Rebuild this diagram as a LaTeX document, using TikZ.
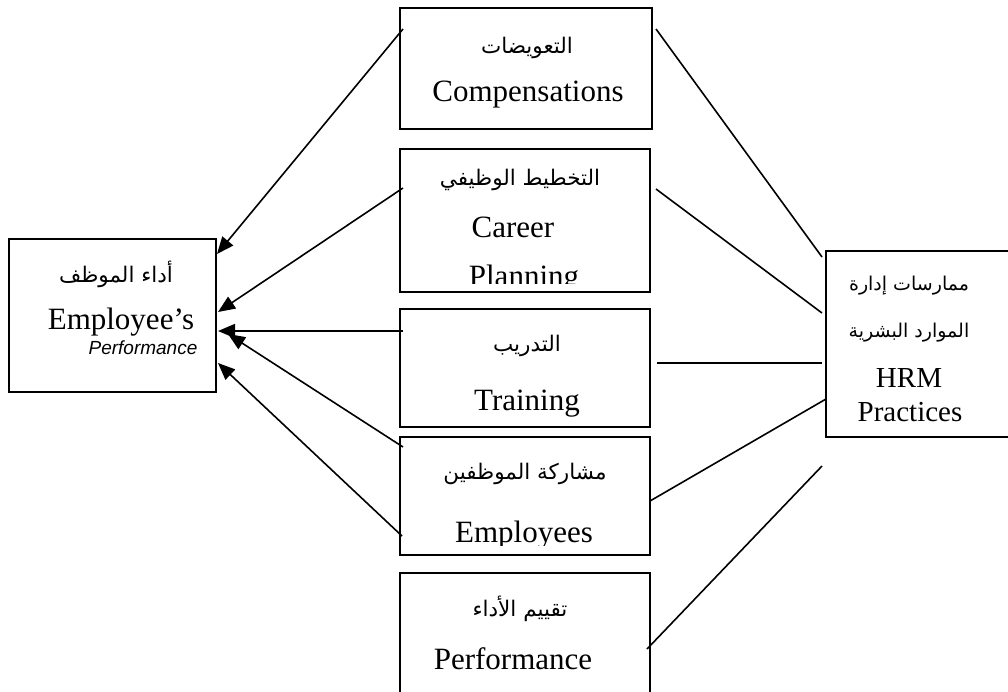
\documentclass[tikz,border=0pt]{standalone}
\usepackage{fontspec}
\setmainfont{Liberation Serif}
\newfontfamily\arabicfont[Script=Arabic]{DejaVu Sans}
\newfontfamily\labelsans{Liberation Sans}
\TeXXeTstate=1
\usetikzlibrary{arrows.meta}
\newcommand\artext[1]{{\arabicfont\beginR #1\endR}}

\begin{document}
\begin{tikzpicture}[x=1pt,y=-1pt,
  frame/.style={draw=black, line width=1.8pt, rectangle, inner sep=0pt},
  lat/.style={font=\fontsize{31}{36}\selectfont, inner sep=0pt, anchor=base},
  arb/.style={font=\arabicfont\fontsize{21.5}{26}\selectfont, inner sep=0pt},
  link/.style={line width=1.6pt},
  arrow/.style={link, -{Triangle[length=17pt,width=14pt]}}]
\useasboundingbox (0,0) rectangle (1008,691);
\clip (0,0) rectangle (1008,691);

% boxes
\node[frame, minimum width=207pt, minimum height=153pt] (perf) at (112.5,315.5) {};
\node[frame, minimum width=252pt, minimum height=121pt] (comp) at (526,68.5) {};
\node[frame, minimum width=250pt, minimum height=143pt] (career) at (525,220.5) {};
\node[frame, minimum width=250pt, minimum height=118pt] (train) at (525,368) {};
\node[frame, minimum width=250pt, minimum height=118pt] (part) at (525,496) {};
\node[frame, minimum width=250pt, minimum height=127pt] (appr) at (525,636.5) {};
\node[frame, minimum width=194pt, minimum height=186pt] (hrm) at (923,344) {};

% employee performance
\node[arb] (perfAr) at (116,274) {\artext{أداء الموظف}};
\node[lat] (perfA) at (121,329) {Employee’s};
\node[inner sep=0pt, anchor=base, font=\labelsans\itshape\fontsize{19}{22}\selectfont] (perfB) at (143,354) {Performance};

% compensations
\node[arb] (compAr) at (527,48) {\artext{التعويضات}};
\node[lat] (compEn) at (528,101) {Compensations};

% career planning
\node[arb] (careerAr) at (520,180) {\artext{التخطيط الوظيفي}};
\node[lat] (careerA) at (513,237) {Career};
\begin{scope}
  \clip (401,150) rectangle (649,283);
  \node[lat] (careerB) at (524,286) {Planning};
\end{scope}

% training
\node[arb] (trainAr) at (527,346) {\artext{التدريب}};
\node[lat] (trainEn) at (527,410) {Training};

% employee participation
\node[arb] (partAr) at (525,474) {\artext{مشاركة الموظفين}};
\begin{scope}
  \clip (401,438) rectangle (649,545);
  \node[lat] (partEn) at (524,542.5) {Employees};
\end{scope}

% performance appraisal
\node[arb] (apprAr) at (520,609) {\artext{تقييم الأداء}};
\node[lat] (apprEn) at (513,669) {Performance};

% HRM practices
\node[arb, font=\arabicfont\fontsize{19}{24}\selectfont] (hrmAr1) at (909,286) {\artext{ممارسات إدارة}};
\node[arb, font=\arabicfont\fontsize{19}{24}\selectfont] (hrmAr2) at (909,333) {\artext{الموارد البشرية}};
\node[lat, font=\fontsize{29}{34}\selectfont] (hrmA) at (909,387) {HRM};
\node[lat, font=\fontsize{29}{34}\selectfont] (hrmB) at (910,421) {Practices};

% connector ends
\coordinate (a1s) at (403,29);  \coordinate (a1e) at (217,254);
\coordinate (a2s) at (403,188); \coordinate (a2e) at (218,312);
\coordinate (a3s) at (403,331); \coordinate (a3e) at (218,331);
\coordinate (a4s) at (403,447); \coordinate (a4e) at (228,334);
\coordinate (a5s) at (402,536); \coordinate (a5e) at (218,363);

\coordinate (l1s) at (656,29);  \coordinate (l1e) at (822,257);
\coordinate (l2s) at (656,189); \coordinate (l2e) at (822,313);
\coordinate (l3s) at (657,363); \coordinate (l3e) at (822,363);
\coordinate (l4s) at (650,501); \coordinate (l4e) at (826,399);
\coordinate (l5s) at (647,649); \coordinate (l5e) at (822,466);

% arrows into employee performance
\draw[arrow] (a1s) -- (a1e);
\draw[arrow] (a2s) -- (a2e);
\draw[arrow] (a3s) -- (a3e);
\draw[arrow] (a4s) -- (a4e);
\draw[arrow] (a5s) -- (a5e);

% lines from HRM practices
\draw[link] (l1s) -- (l1e);
\draw[link] (l2s) -- (l2e);
\draw[link] (l3s) -- (l3e);
\draw[link] (l4s) -- (l4e);
\draw[link] (l5s) -- (l5e);
\end{tikzpicture}
\end{document}
